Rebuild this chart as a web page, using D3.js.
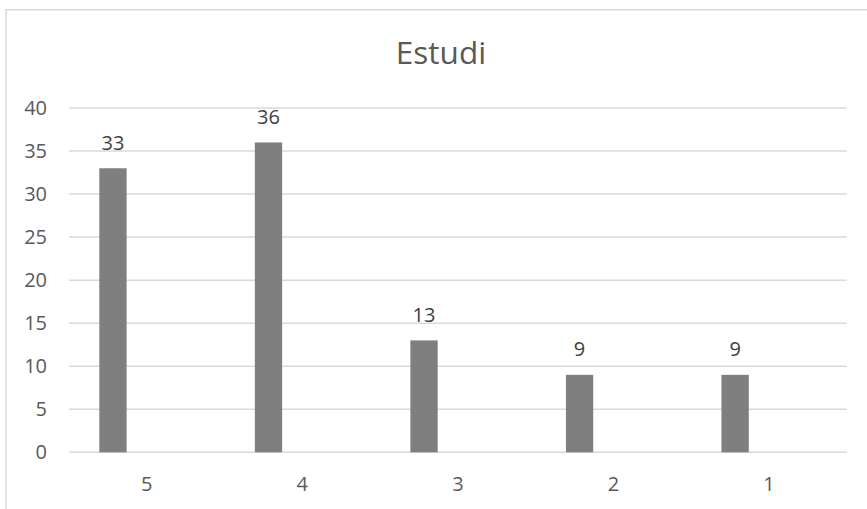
<!DOCTYPE html>
<html>
<head>
<meta charset="utf-8">
<script src="https://cdn.jsdelivr.net/npm/d3@7"></script>
<style>
  html, body { margin: 0; padding: 0; background: #fff; }
  svg { display: block; font-family: "Open Sans", "Liberation Sans", sans-serif; }
</style>
</head>
<body>
<script>
const title = "Estudi";
const categories = ["5", "4", "3", "2", "1"];
const values = [33, 36, 13, 9, 9];
const series = ["Estudi", "(buit)"];
const yTicks = [0, 5, 10, 15, 20, 25, 30, 35, 40];

const W = 867, H = 509;
const svg = d3.select("body").append("svg").attr("width", W).attr("height", H);

// chart frame (cut off at right and bottom)
svg.append("path")
  .attr("d", `M6,${H + 2} L6,9.75 L${W + 2},9.75`)
  .attr("fill", "none").attr("stroke", "#d9d9d9").attr("stroke-width", 1.5);

const plot = { left: 69, right: 846.7, top: 108, bottom: 452.3 };

const x0 = d3.scaleBand().domain(categories).range([plot.left, plot.right]).padding(0);
const x1 = d3.scaleBand().domain(series).range([0, x0.bandwidth()])
  .paddingInner(0.596).paddingOuter(0.448);
const y = d3.scaleLinear().domain([0, 40]).range([plot.bottom, plot.top]);

// gridlines
svg.append("g").selectAll("line").data(yTicks).join("line")
  .attr("x1", plot.left).attr("x2", plot.right)
  .attr("y1", d => y(d)).attr("y2", d => y(d))
  .attr("stroke", "#d9d9d9").attr("stroke-width", 1.5);

// y axis labels
const yAxis = d3.axisLeft(y).tickValues(yTicks).tickSize(0).tickPadding(0);
const gy = svg.append("g").attr("transform", `translate(47,0)`).call(yAxis);
gy.select(".domain").remove();
gy.selectAll("text").attr("fill", "#595959").attr("font-size", 20)
  .attr("font-family", "'Open Sans', sans-serif");

// x axis labels
const xAxis = d3.axisBottom(x0).tickSize(0).tickPadding(0);
const gx = svg.append("g").attr("transform", `translate(0,477)`).call(xAxis);
gx.select(".domain").remove();
gx.selectAll("text").attr("fill", "#595959").attr("font-size", 20)
  .attr("font-family", "'Open Sans', sans-serif");

// bars
svg.append("g").selectAll("rect").data(values).join("rect")
  .attr("x", (d, i) => x0(categories[i]) + x1(series[0]))
  .attr("width", x1.bandwidth())
  .attr("y", d => y(d))
  .attr("height", d => y(0) - y(d))
  .attr("fill", "#7f7f7f");

// data labels
svg.append("g").selectAll("text").data(values).join("text")
  .attr("x", (d, i) => x0(categories[i]) + x1(series[0]) + x1.bandwidth() / 2)
  .attr("y", d => y(d) - 18.5)
  .attr("text-anchor", "middle")
  .attr("fill", "#404040").attr("font-size", 20)
  .text(d => d);

// title
svg.append("text")
  .attr("x", 441).attr("y", 64.3)
  .attr("text-anchor", "middle")
  .attr("fill", "#595959").attr("font-size", 31.5)
  .text(title);
</script>
</body>
</html>
